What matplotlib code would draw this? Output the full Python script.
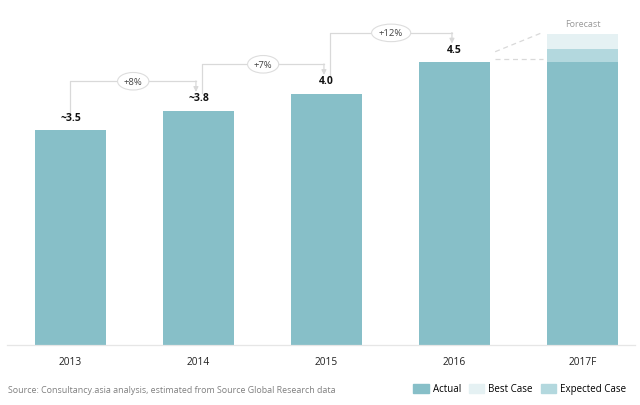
import matplotlib.pyplot as plt
from matplotlib.patches import Patch

plt.rcParams['font.family'] = ['Open Sans', 'DejaVu Sans']

# ---------- data ----------
years = ["2013", "2014", "2015", "2016", "2017F"]
actual = [3.42, 3.73, 4.0, 4.5, 4.5]
value_labels = ["~3.5", "~3.8", "4.0", "4.5"]
expected_2017 = 4.71
best_2017 = 4.95
growth_labels = ["+8%", "+7%", "+12%"]

C_ACTUAL = "#87bfc8"
C_EXPECTED = "#b3d8de"
C_BEST = "#e5f1f3"
C_LINE = "#d9d9d9"

fig = plt.figure(figsize=(6.4, 4.06), dpi=100)
ax = fig.add_axes([7 / 640, 60 / 406, 628 / 640, 326 / 406])
ax.set_xlim(-0.496, 4.41)
ax.set_ylim(0, 326 / 62.8)

x = list(range(len(years)))
w = 0.555
ax.bar(x, actual, width=w, color=C_ACTUAL, zorder=2)
# forecast stack for 2017F
ax.bar(x[-1], expected_2017 - actual[-1], bottom=actual[-1], width=w,
       color=C_EXPECTED, zorder=2)
ax.bar(x[-1], best_2017 - expected_2017, bottom=expected_2017, width=w,
       color=C_BEST, zorder=2)

# value labels
for i, lab in enumerate(value_labels):
    ax.text(x[i], actual[i] + 0.12, lab, ha="center", va="bottom",
            fontsize=7.5, fontweight="bold", color="#111111")

# growth connectors
for i, g in enumerate(growth_labels):
    x0 = x[i] + (0.0 if i == 0 else 0.03)
    x1 = x[i + 1] - 0.02
    y0 = actual[i] + 0.28
    y1 = actual[i + 1] + 0.3
    top = actual[i + 1] + 0.47
    ax.plot([x0, x0, x1], [y0, top, top], color=C_LINE, lw=0.9, zorder=1)
    ax.annotate("", xy=(x1, y1), xytext=(x1, top + 0.005),
                arrowprops=dict(arrowstyle="-|>", color=C_LINE, lw=0.9,
                                mutation_scale=7, shrinkA=0, shrinkB=0))
    ax.text((x0 + x1) / 2, top, g, ha="center", va="center", fontsize=6.8,
            color="#444444", zorder=3,
            bbox=dict(boxstyle="ellipse,pad=0.18", fc="white", ec="#dddddd", lw=0.8))

# forecast dashed guides
xr = x[3] + w / 2 + 0.04
xl = x[4] - w / 2 - 0.03
ax.plot([xr, xl], [actual[3] + 0.05, actual[3] + 0.05], color=C_LINE, lw=0.9,
        ls=(0, (4, 3)))
ax.plot([xr, xl], [actual[3] + 0.17, best_2017 + 0.03], color=C_LINE, lw=0.9,
        ls=(0, (4, 3)))
ax.text(x[4], best_2017 + 0.1, "Forecast", ha="center", va="bottom",
        fontsize=6.5, color="#999999")

# axes styling
for s in ["top", "right", "left"]:
    ax.spines[s].set_visible(False)
ax.spines["bottom"].set_color("#e6e6e6")
ax.spines["bottom"].set_linewidth(0.9)
ax.set_yticks([])
ax.set_xticks(x)
ax.set_xticklabels(years, fontsize=7.3, color="#222222")
ax.tick_params(axis="x", length=0, pad=8)

fig.text(8 / 640, 1 - 391 / 406, "Source: Consultancy.asia analysis, estimated from Source Global Research data",
         ha="left", va="center", fontsize=6.4, color="#808080")

handles = [Patch(color=C_ACTUAL, label="Actual"),
           Patch(color=C_BEST, label="Best Case"),
           Patch(color=C_EXPECTED, label="Expected Case")]
fig.legend(handles=handles, loc="center right", ncol=3, frameon=False,
           bbox_to_anchor=(1 - 10 / 640, 1 - 390 / 406), fontsize=7,
           handlelength=1.6, handleheight=1.1, handletextpad=0.4,
           columnspacing=0.8, borderaxespad=0)

fig.savefig("out.png", dpi=100)
